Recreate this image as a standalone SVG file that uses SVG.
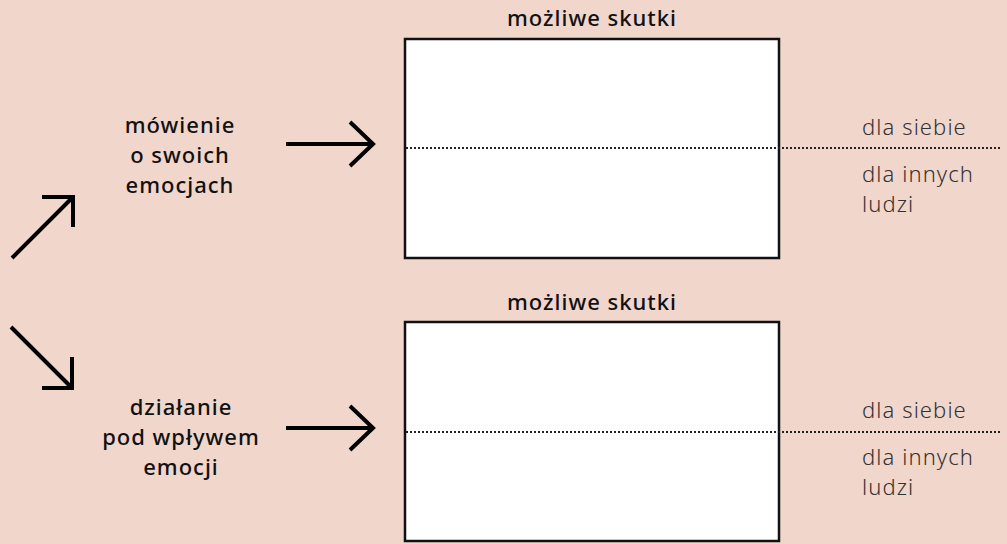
<svg xmlns="http://www.w3.org/2000/svg" width="1007" height="544" viewBox="0 0 1007 544">
<style>
.box{fill:#ffffff;stroke:#111;stroke-width:2.5}
.dot{stroke:#222;stroke-width:2;stroke-dasharray:2 2;fill:none}
.arr{stroke:#000;stroke-width:4;fill:none;stroke-linecap:butt}
.lbl{font-family:"Noto Sans",sans-serif;font-weight:500;font-size:22px;letter-spacing:1px;fill:#111;text-anchor:middle}
.side{font-family:"Noto Sans",sans-serif;font-weight:300;font-size:22px;letter-spacing:1.1px;fill:#333}
</style>
<rect width="1007" height="544" fill="#f1d6cc"/>
<g id="connectors">
<path class="arr" d="M12,258 L73,197 M42,197 L73,197 L73,227"/>
<path class="arr" d="M11,327 L72,388 M72,357 L72,388 L42,388"/>
<path class="arr" d="M286,144 L373,144 M350,122 L373,144 L350,166"/>
<path class="arr" d="M286,428 L373,428 M350,406 L373,428 L350,450"/>
</g>
<g id="box-top">
<text class="lbl" x="592" y="26">możliwe skutki</text>
<rect class="box" x="405" y="39" width="374" height="219"/>
<line class="dot" x1="406" y1="148" x2="1002" y2="148"/>
<text class="side" x="862" y="135">dla siebie</text>
<text class="side" x="862" y="182">dla innych</text>
<text class="side" x="862" y="212">ludzi</text>
</g>
<g id="box-bottom">
<text class="lbl" x="592" y="310">możliwe skutki</text>
<rect class="box" x="405" y="322" width="374" height="219"/>
<line class="dot" x1="406" y1="432" x2="1002" y2="432"/>
<text class="side" x="862" y="418">dla siebie</text>
<text class="side" x="862" y="465">dla innych</text>
<text class="side" x="862" y="495">ludzi</text>
</g>
<g id="node-speaking">
<text class="lbl" x="180" y="133">mówienie</text>
<text class="lbl" x="180" y="163">o swoich</text>
<text class="lbl" x="180" y="193">emocjach</text>
</g>
<g id="node-acting">
<text class="lbl" x="181" y="415">działanie</text>
<text class="lbl" x="181" y="445">pod wpływem</text>
<text class="lbl" x="181" y="475">emocji</text>
</g>
</svg>
